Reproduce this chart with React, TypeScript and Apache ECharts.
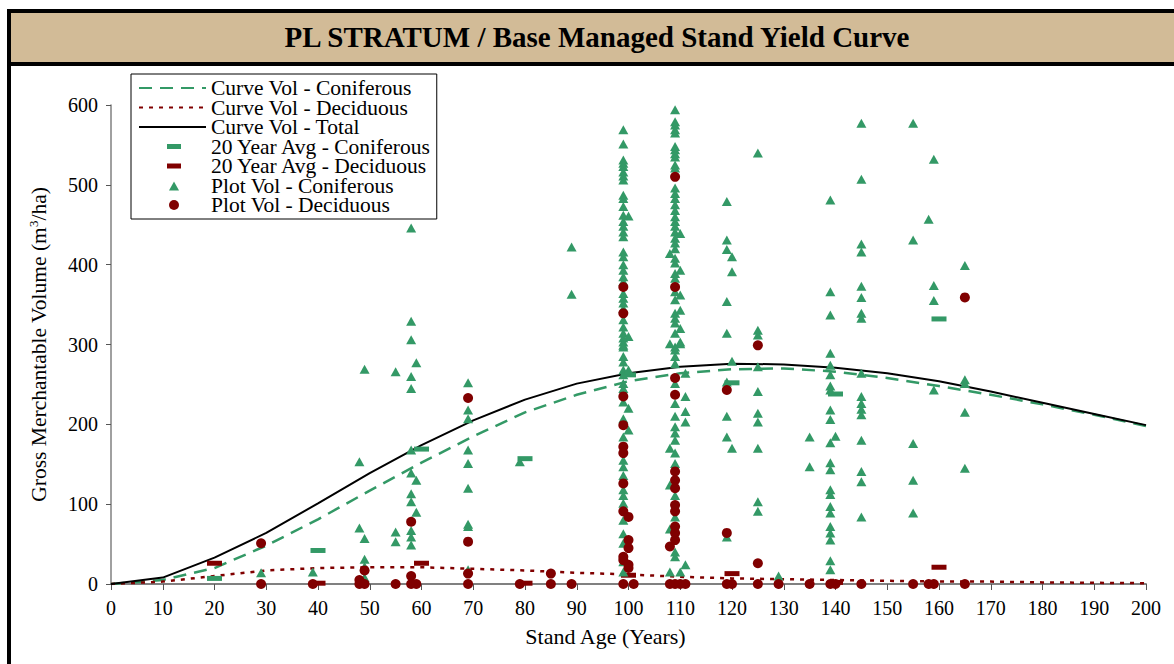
import React, { useEffect, useRef } from 'react';
import * as echarts from 'echarts';

const FONT = '"Liberation Serif", "Times New Roman", serif';
const GREEN = '#339966';
const RED = '#800000';

// Curves (every 10 years)
const curveAges = [0, 10, 20, 30, 40, 50, 60, 70, 80, 90, 100, 110, 120, 130, 140, 150, 160, 170, 180, 190, 200];
const curveConifer = [0, 5, 20, 48, 81, 117, 152, 185, 215, 237, 254, 264, 269, 270, 266, 258, 248, 237, 225, 212, 198];
const curveDecid = [0, 3, 10, 17, 20, 21, 21, 19, 17, 14, 12, 9, 7, 6, 5, 4, 3, 3, 2, 1.5, 1];
const curveTotal = [0, 8, 33, 64, 101, 139, 174, 205, 231, 251, 264, 272, 276, 275, 271, 264, 254, 241, 227, 213, 199];

// 20 year averages
const avgAges = [20, 40, 60, 80, 100, 120, 140, 160];
const avgConifer = [7, 42, 169, 157, 262, 252, 238, 332];
const avgDecid = [26, 1, 26, 1, 11, 13, 2, 21];

// Plot volumes grouped by stand age
const plotConifer: [number, number[]][] = [
  [29, [14]],
  [39, [15]],
  [48, [153, 70]],
  [49, [269, 57, 31, 22, 8]],
  [55, [266, 65, 53]],
  [58, [446, 329, 306, 260, 245, 168, 139, 113, 103, 67, 59, 49]],
  [59, [277, 130, 90]],
  [69, [252, 218, 207, 168, 151, 120, 75, 72, 18]],
  [79, [153]],
  [89, [422, 363]],
  [99, [569, 551, 531, 527, 523, 516, 511, 506, 487, 483, 473, 462, 454, 448, 441, 435, 416, 410, 400, 393, 385, 379, 364, 358, 352, 345, 331, 322, 314, 308, 303, 299, 297, 285, 278, 268, 262, 251, 245, 228, 207, 184, 155, 147, 136, 118, 111, 101, 80, 63, 51, 28, 15]],
  [100, [461, 310, 268, 220, 193]],
  [108, [414, 301, 170, 124, 69, 15]],
  [109, [594, 579, 575, 569, 565, 548, 544, 539, 535, 525, 521, 496, 489, 483, 475, 468, 460, 454, 448, 441, 433, 427, 420, 408, 402, 389, 383, 366, 356, 339, 333, 327, 314, 297, 293, 285, 276, 251, 226, 210, 197, 189, 180, 164, 151, 111, 84, 40, 34]],
  [110, [439, 393, 362, 343, 320, 303, 301, 15]],
  [111, [264, 235, 216, 203, 24]],
  [119, [479, 431, 419, 354, 314, 253, 210, 184, 59]],
  [120, [410, 391, 279, 170]],
  [125, [540, 318, 312, 272, 241, 214, 203, 170, 103, 91]],
  [129, [10]],
  [135, [184, 147]],
  [139, [481, 366, 337, 289, 274, 262, 248, 243, 218, 206, 177, 152, 143, 118, 112, 97, 89, 72, 64, 55, 29, 18]],
  [140, [185]],
  [145, [577, 507, 426, 416, 373, 359, 339, 333, 264, 235, 226, 219, 212, 180, 141, 128, 84]],
  [155, [577, 431, 176, 130, 89]],
  [158, [457]],
  [159, [532, 374, 355, 243]],
  [165, [399, 256, 251, 215, 145]],
];

const plotDecid: [number, number[]][] = [
  [29, [51, 0]],
  [39, [0]],
  [48, [5, 0]],
  [49, [17, 0]],
  [55, [0]],
  [58, [78, 10, 0]],
  [59, [0]],
  [69, [233, 53, 13, 0]],
  [79, [0]],
  [85, [13, 0]],
  [89, [0]],
  [99, [372, 339, 235, 199, 172, 164, 126, 91, 34, 30, 0]],
  [100, [84, 55, 45, 24, 20]],
  [101, [0]],
  [108, [47, 0]],
  [109, [510, 372, 258, 237, 141, 130, 120, 99, 91, 72, 64, 55, 0]],
  [110, [0]],
  [111, [0]],
  [119, [243, 64, 0]],
  [120, [0]],
  [125, [299, 26, 0]],
  [129, [0]],
  [135, [0]],
  [139, [0]],
  [140, [0]],
  [145, [0]],
  [155, [0]],
  [158, [0]],
  [159, [0]],
  [165, [359, 0]],
];

const yTickMax = 600;
const xTickMax = 200;

const seriesNames = [
  'Curve Vol - Coniferous',
  'Curve Vol - Deciduous',
  'Curve Vol - Total',
  '20 Year Avg - Coniferous',
  '20 Year Avg - Deciduous',
  'Plot Vol - Coniferous',
  'Plot Vol - Deciduous',
];

const flatten = (groups: [number, number[]][]) =>
  groups.flatMap(([age, vols]) => vols.map((v) => [age, v]));
const zip = (xs: number[], ys: number[]) => xs.map((x, i) => [x, ys[i]]);

const PAD = 'M0,0L0,0M67,14L67,14';
const AVG_ICON = `path://${PAD}M28,4.5L42,4.5L42,9.5L28,9.5Z`;
const TRI_ICON = `path://${PAD}M30,12L40,12L35,3Z`;
const CIR_ICON = `path://${PAD}M30,7A5,5,0,1,0,40,7A5,5,0,1,0,30,7Z`;

export default function App() {
  const ref = useRef<HTMLDivElement>(null);
  useEffect(() => {
    const chart = echarts.init(ref.current!, null, { renderer: 'svg' });
    const option: any = {
      animation: false,
      backgroundColor: '#ffffff',
      title: {
        text: 'PL STRATUM / Base Managed Stand Yield Curve',
        left: 597,
        top: 22,
        textAlign: 'center',
        padding: 0,
        textStyle: { fontFamily: FONT, fontSize: 29, fontWeight: 'bold', color: '#000' },
      },
      graphic: [
        {
          type: 'rect',
          z: -10,
          shape: { x: 11, y: 13, width: 1200, height: 49 },
          style: { fill: '#D2BB97' },
        },
        {
          type: 'rect',
          z: 100,
          shape: { x: 9, y: 11, width: 1200, height: 700 },
          style: { fill: 'none', stroke: '#000', lineWidth: 4 },
        },
        {
          type: 'line',
          z: 100,
          shape: { x1: 9, y1: 64, x2: 1200, y2: 64 },
          style: { stroke: '#000', lineWidth: 4 },
        },
      ],
      legend: {
        orient: 'vertical',
        left: 131,
        top: 74,
        padding: [3, 5, 3, 7],
        itemGap: -2.5,
        itemWidth: 67,
        itemHeight: 14,
        borderColor: '#000',
        borderWidth: 1,
        backgroundColor: '#fff',
        selectedMode: false,
        itemStyle: { borderWidth: 0 },
        textStyle: { fontFamily: FONT, fontSize: 21.5, color: '#000' },
        data: [
          { name: seriesNames[0], itemStyle: { opacity: 0 } },
          { name: seriesNames[1], itemStyle: { opacity: 0 } },
          { name: seriesNames[2], itemStyle: { opacity: 0 } },
          { name: seriesNames[3], icon: AVG_ICON },
          { name: seriesNames[4], icon: AVG_ICON },
          { name: seriesNames[5], icon: TRI_ICON },
          { name: seriesNames[6], icon: CIR_ICON },
        ],
      },
      grid: { left: 111, right: 28, top: 105, bottom: 80, containLabel: false },
      xAxis: {
        type: 'value',
        min: 0,
        max: xTickMax,
        interval: 10,
        name: 'Stand Age (Years)',
        nameLocation: 'middle',
        nameGap: 41,
        nameTextStyle: { fontFamily: FONT, fontSize: 22, color: '#000', padding: [0, 46, 0, 0] },
        axisLine: { show: true, onZero: false, lineStyle: { color: '#808080', width: 2 } },
        axisTick: { show: true, length: 6, lineStyle: { color: '#555', width: 1 } },
        axisLabel: { fontFamily: FONT, fontSize: 20, color: '#000', margin: 14 },
        splitLine: { show: false },
      },
      yAxis: {
        type: 'value',
        min: 0,
        max: yTickMax,
        interval: 100,
        name: 'Gross Merchantable Volume (m{sup|3}/ha)',
        nameLocation: 'middle',
        nameGap: 60,
        nameRotate: 90,
        nameTextStyle: {
          fontFamily: FONT,
          fontSize: 21.5,
          color: '#000',
          rich: { sup: { fontFamily: FONT, fontSize: 13, color: '#000', verticalAlign: 'top', lineHeight: 24 } },
        },
        axisLine: { show: true, lineStyle: { color: '#808080', width: 1.5 } },
        axisTick: { show: true, length: 5, lineStyle: { color: '#555', width: 1 } },
        axisLabel: { fontFamily: FONT, fontSize: 20, color: '#000', margin: 13 },
        splitLine: { show: false },
      },
      series: [
        {
          name: seriesNames[0],
          type: 'line',
          data: zip(curveAges, curveConifer),
          symbol: 'none',
          showSymbol: false,
          silent: true,
          z: 2,
          color: GREEN,
          lineStyle: { color: GREEN, width: 2.5, type: [13, 8] },
        },
        {
          name: seriesNames[1],
          type: 'line',
          data: zip(curveAges, curveDecid),
          symbol: 'none',
          showSymbol: false,
          silent: true,
          z: 2,
          color: RED,
          lineStyle: { color: RED, width: 2.5, type: [4, 6] },
        },
        {
          name: seriesNames[2],
          type: 'line',
          data: zip(curveAges, curveTotal),
          symbol: 'none',
          showSymbol: false,
          silent: true,
          z: 2,
          color: '#000',
          lineStyle: { color: '#000', width: 2 },
        },
        {
          name: seriesNames[3],
          type: 'scatter',
          data: zip(avgAges, avgConifer),
          symbol: 'rect',
          symbolSize: [15, 5],
          silent: true,
          z: 3,
          itemStyle: { color: GREEN, opacity: 1 },
        },
        {
          name: seriesNames[4],
          type: 'scatter',
          data: zip(avgAges, avgDecid),
          symbol: 'rect',
          symbolSize: [15, 5],
          silent: true,
          z: 3,
          itemStyle: { color: RED, opacity: 1 },
        },
        {
          name: seriesNames[5],
          type: 'scatter',
          data: flatten(plotConifer),
          symbol: 'triangle',
          symbolSize: [10, 9],
          silent: true,
          z: 4,
          itemStyle: { color: GREEN, opacity: 1 },
        },
        {
          name: seriesNames[6],
          type: 'scatter',
          data: flatten(plotDecid),
          symbol: 'circle',
          symbolSize: 10,
          silent: true,
          z: 5,
          itemStyle: { color: RED, opacity: 1 },
        },
      ],
    };
    chart.setOption(option);
    return () => chart.dispose();
  }, []);
  return (
    <div
      ref={ref}
      style={{ position: 'fixed', left: 0, top: 0, width: 1174, height: 664, background: '#fff' }}
    />
  );
}
